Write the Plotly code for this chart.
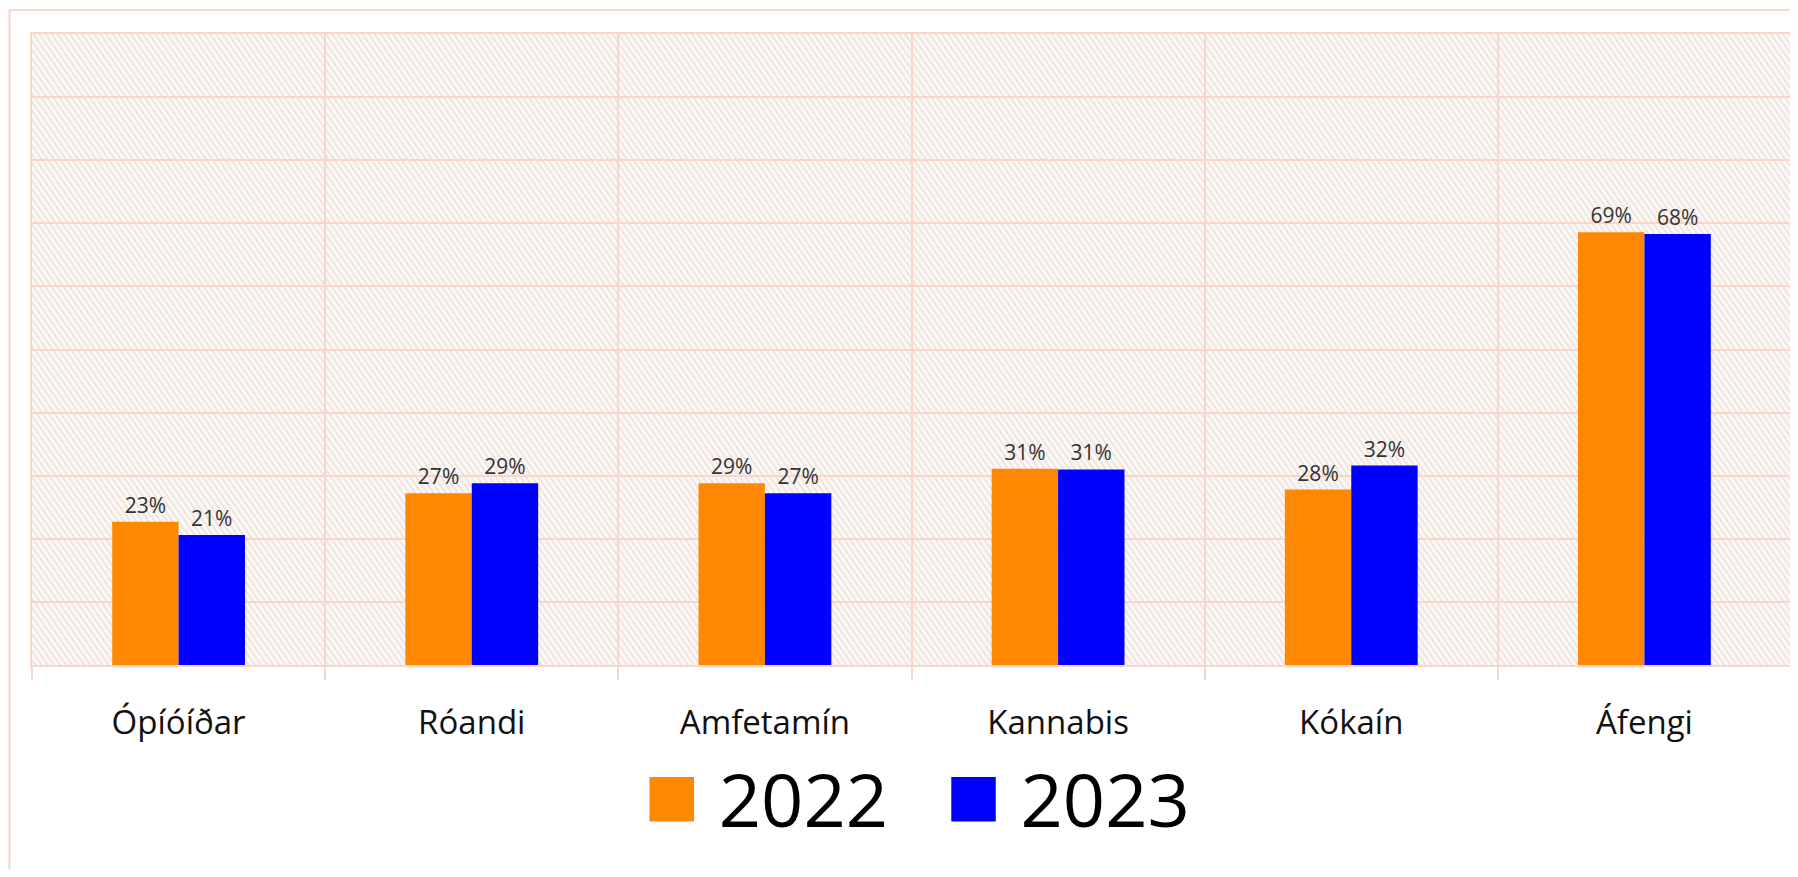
import base64
import plotly.graph_objects as go

categories = ["Ópíóíðar", "Róandi", "Amfetamín", "Kannabis", "Kókaín", "Áfengi"]
series_names = ["2022", "2023"]
values_2022 = [22.7, 27.2, 28.8, 31.1, 27.8, 68.6]
values_2023 = [20.6, 28.8, 27.2, 31.0, 31.6, 68.3]
series_values = [values_2022, values_2023]
series_colors = ["#FF8800", "#0000FF"]

GRID = "#f8d6c9"
# the page body keeps an 8px margin, so the figure is sized to fit the window
W, H = 1790, 861
ML, MR, MT, MB = 24, 5, 26, 204

fig = go.Figure()
for name, vals, col in zip(series_names, series_values, series_colors):
    fig.add_trace(go.Bar(
        x=categories, y=vals, name=name,
        marker=dict(color=col, line=dict(width=0)),
        texttemplate="%{y:.0f}%", textposition="outside",
        textfont=dict(family="Open Sans", size=21, color="#333333"),
        cliponaxis=False,
    ))

# hatched plot background
pw, ph = W - ML - MR, H - MT - MB
svg = (f"<svg xmlns='http://www.w3.org/2000/svg' width='{pw}' height='{ph}' viewBox='0 0 {pw} {ph}'>"
       "<defs><pattern id='h' width='5' height='5' patternUnits='userSpaceOnUse' patternTransform='rotate(-35)'>"
       "<rect width='5' height='5' fill='#fbf8f6'/><rect width='2' height='5' fill='#efe4df'/></pattern></defs>"
       "<rect width='100%' height='100%' fill='url(#h)'/></svg>")
src = "data:image/svg+xml;base64," + base64.b64encode(svg.encode()).decode()

legend_text = "   ".join(
    f"<span style='color:{c};font-size:92px'>■</span> {n}"
    for n, c in zip(series_names, series_colors)
)

fig.update_layout(
    width=W, height=H,
    margin=dict(l=ML, r=MR, t=MT, b=MB),
    paper_bgcolor="white",
    plot_bgcolor="rgba(0,0,0,0)",
    barmode="group", bargap=0.547, bargroupgap=0,
    showlegend=False,
    images=[dict(source=src, xref="paper", yref="paper", x=0, y=1, sizex=1, sizey=1,
                 xanchor="left", yanchor="top", sizing="stretch", layer="below")],
    xaxis=dict(type="category", tickson="boundaries", showgrid=True, gridcolor=GRID, gridwidth=2,
               ticks="outside", ticklen=13, tickwidth=2, tickcolor=GRID,
               showline=True, mirror=True, linecolor=GRID, linewidth=2,
               tickfont=dict(family="Open Sans", size=33, color="#111111"),
               ticklabelstandoff=27),
    yaxis=dict(range=[0, 100], dtick=10, showgrid=True, gridcolor=GRID, gridwidth=2,
               showticklabels=False, zeroline=False,
               showline=True, mirror=True, linecolor=GRID, linewidth=2),
    annotations=[dict(text=legend_text, xref="paper", yref="paper", x=0.503, y=-0.2,
                      xanchor="center", yanchor="middle", showarrow=False,
                      font=dict(family="Open Sans", size=74, color="#000000"))],
    shapes=[dict(type="rect", xref="paper", yref="paper", x0=-0.0128, x1=1.02, y0=-0.6, y1=1.038,
                 line=dict(color=GRID, width=2), fillcolor="rgba(0,0,0,0)", layer="below")],
)

fig.write_html("out.html")
